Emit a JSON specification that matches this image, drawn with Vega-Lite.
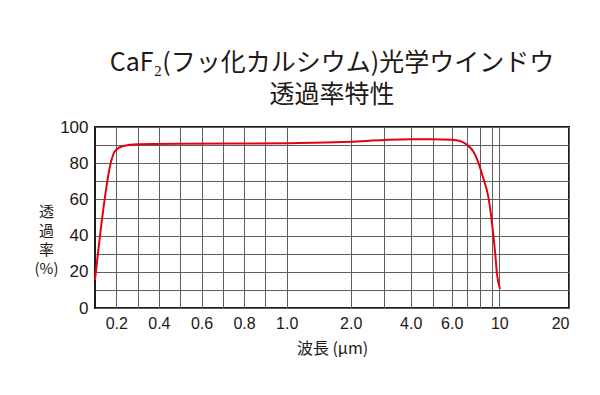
{
  "$schema": "https://vega.github.io/schema/vega-lite/v6.json",
  "autosize": {"type": "none"},
  "width": 474,
  "height": 181,
  "padding": {"left": 95, "top": 127, "right": 31, "bottom": 87},
  "background": "white",
  "title": {
    "text": "CaF₂(フッ化カルシウム)光学ウインドウ",
    "subtitle": "透過率特性",
    "font": "Noto Sans CJK JP",
    "subtitleFont": "Noto Sans CJK JP",
    "fontSize": 25,
    "subtitleFontSize": 25,
    "fontWeight": "normal",
    "subtitleFontWeight": "normal",
    "color": "#231815",
    "subtitleColor": "#231815",
    "subtitlePadding": 7,
    "anchor": "middle",
    "frame": "group",
    "offset": 10
  },
  "config": {
    "view": {"stroke": "#231815", "strokeWidth": 2},
    "axis": {
      "labelFont": "Liberation Sans",
      "labelColor": "#231815",
      "titleColor": "#231815",
      "gridColor": "#5e5e5e",
      "gridWidth": 1,
      "gridOpacity": 1,
      "domain": false,
      "ticks": false
    }
  },
  "data": {
    "values": [
      {"wl": 0.1, "t": 15.5},
      {"wl": 0.178, "t": 82},
      {"wl": 0.19, "t": 86},
      {"wl": 0.2, "t": 87.5},
      {"wl": 0.233, "t": 89.5},
      {"wl": 0.3, "t": 90.5},
      {"wl": 0.5, "t": 90.8},
      {"wl": 1.0, "t": 91},
      {"wl": 1.2, "t": 91.1},
      {"wl": 2.0, "t": 91.9},
      {"wl": 3.0, "t": 92.8},
      {"wl": 4.0, "t": 93.2},
      {"wl": 5.0, "t": 93.2},
      {"wl": 6.0, "t": 92.9},
      {"wl": 6.55, "t": 92.3},
      {"wl": 7.0, "t": 90.3},
      {"wl": 7.5, "t": 86.4},
      {"wl": 7.87, "t": 80.5},
      {"wl": 8.28, "t": 71.5},
      {"wl": 8.69, "t": 61.5},
      {"wl": 8.97, "t": 48.6},
      {"wl": 9.43, "t": 30.4},
      {"wl": 9.67, "t": 19.3},
      {"wl": 10.1, "t": 10.5}
    ]
  },
  "mark": {"type": "line", "color": "#e60012", "strokeWidth": 2, "interpolate": "monotone"},
  "encoding": {
    "x": {
      "field": "wl",
      "type": "quantitative",
      "scale": {
        "type": "linear",
        "domain": [0.1, 1, 2, 3, 4, 5, 6, 7, 8, 9, 10, 20],
        "range": [0, 191.7, 255.7, 289.3, 315.7, 338, 356.7, 371.7, 385, 397, 404.3, 474],
        "nice": false,
        "zero": false
      },
      "axis": {
        "values": [0.2, 0.3, 0.4, 0.5, 0.6, 0.7, 0.8, 0.9, 1, 2, 3, 4, 5, 6, 7, 8, 9, 10, 20],
        "labelExpr": "indexof([0.2,0.4,0.6,0.8,1,2,4,6], datum.value) >= 0 ? format(datum.value, '.1f') : (datum.value == 10 || datum.value == 20 ? format(datum.value, 'd') : '')",
        "labelOverlap": false,
        "labelFlush": true,
        "labelFontSize": 16,
        "labelPadding": 7,
        "grid": true,
        "title": "波長 (μm)",
        "titleFont": "Noto Sans CJK JP",
        "titleFontSize": 16,
        "titleFontWeight": "normal",
        "titlePadding": 9
      }
    },
    "y": {
      "field": "t",
      "type": "quantitative",
      "scale": {"domain": [0, 100], "nice": false},
      "axis": {
        "values": [0, 10, 20, 30, 40, 50, 60, 70, 80, 90, 100],
        "labelExpr": "datum.value % 20 == 0 ? datum.label : ''",
        "labelOverlap": false,
        "labelFontSize": 17,
        "labelPadding": 7,
        "grid": true,
        "title": ["透", "過", "率", "(%)"],
        "titleFont": "Noto Sans CJK JP",
        "titleFontSize": 15,
        "titleFontWeight": "normal",
        "titleAngle": 0,
        "titleAlign": "center",
        "titleBaseline": "top",
        "titleLineHeight": 19,
        "titleX": -49,
        "titleY": 77
      }
    }
  }
}
